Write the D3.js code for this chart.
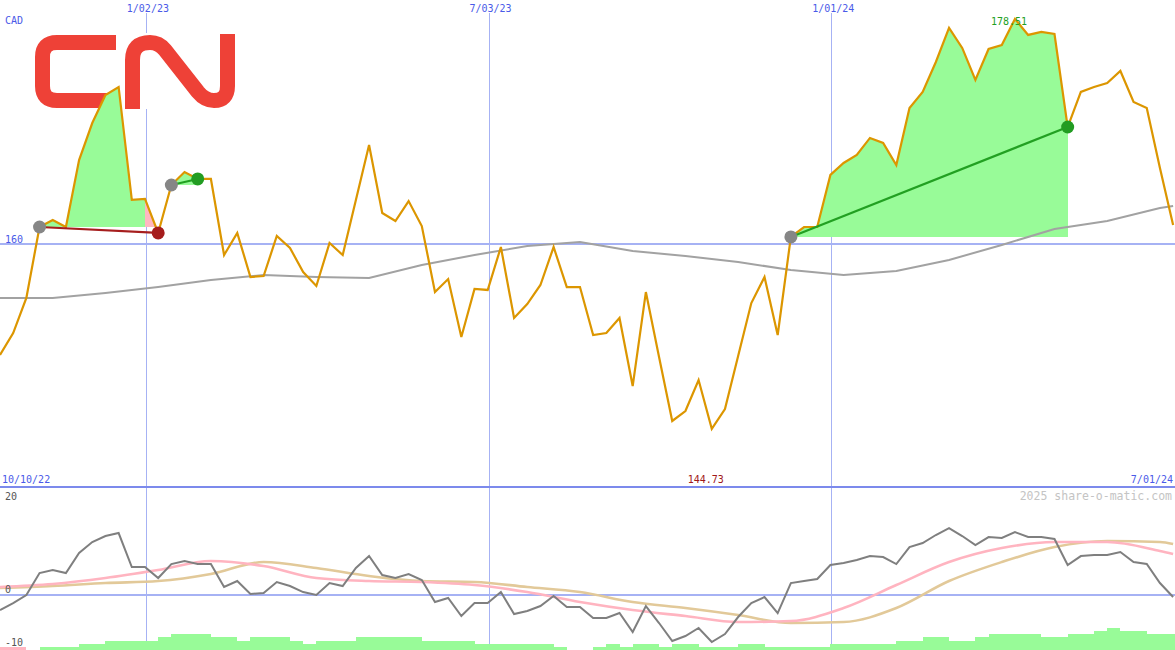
<!DOCTYPE html>
<html><head><meta charset="utf-8">
<script src="https://cdn.jsdelivr.net/npm/d3@7"></script>
<style>
body{margin:0;background:#fff}
svg{display:block}
text{font-family:"DejaVu Sans Mono",monospace}
</style>
</head><body>
<svg id="c" width="1175" height="650"></svg>
<script>
// ---------- data ----------
const startDate = "2022-10-16";   // first weekly close plotted
const endDate = "2024-07-01";     // right edge of the chart
const rangeLabels = ["10/10/22", "7/01/24"];
const currency = "CAD";

const price = [150.81,152.62,155.51,161.36,161.94,161.36,166.88,169.93,172.24,172.90,
163.59,163.67,160.87,164.82,165.89,165.32,165.32,159.05,160.87,157.24,
157.32,160.62,159.63,157.65,156.50,160.04,159.05,163.59,168.12,162.51,
161.85,163.50,161.44,156.00,157.07,152.29,156.25,156.17,159.71,153.86,
155.01,156.58,159.71,156.41,156.41,152.46,152.62,153.86,148.25,156.00,
150.64,145.37,146.19,148.75,144.73,146.36,150.73,155.09,157.24,152.46,
160.54,161.36,161.36,165.65,166.64,167.30,168.70,168.29,166.47,171.17,
172.49,174.96,177.77,176.12,173.48,176.03,176.36,178.51,177.19,177.44,
177.27,169.60,172.49,172.90,173.23,174.22,171.67,171.17,166.22,161.53];

const avgIndex = [0,4,8,12,16,20,24,28,32,36,40,44,48,52,56,60,64,68,72,76,80,84,88,89];
const movingAvg = [155.51,155.51,155.92,156.41,156.99,157.40,157.24,157.16,158.23,159.05,159.79,160.12,
159.38,158.97,158.47,157.82,157.40,157.73,158.64,159.88,161.20,161.85,162.93,163.09];

const momentum = [-2.74,-1.43,0.06,4.16,4.71,4.16,7.88,9.93,11.05,11.61,
5.27,5.27,3.22,5.83,6.39,5.83,5.83,1.55,2.66,0.24,
0.43,2.48,1.73,0.61,0.06,2.29,1.73,5.09,7.32,3.78,
3.22,3.97,2.85,-1.25,-0.50,-3.86,-1.43,-1.43,0.61,-3.48,
-2.93,-1.99,-0.13,-2.18,-2.18,-4.23,-4.23,-3.30,-6.84,-1.99,
-5.16,-8.52,-7.58,-6.09,-8.70,-7.21,-4.04,-1.43,-0.32,-3.30,
2.29,2.66,3.04,5.65,6.02,6.58,7.32,7.14,5.83,9.00,
9.74,11.24,12.54,11.05,9.37,10.86,10.68,11.79,10.86,10.86,
10.49,5.65,7.32,7.51,7.51,8.07,6.20,5.83,2.29,-0.32];

const fastSignal = [1.55,2.11,3.22,4.71,6.39,5.46,3.22,2.66,2.48,1.92,0.61,-1.25,
-2.74,-3.86,-4.98,-4.79,-2.37,1.92,6.20,8.81,9.93,9.93,8.25,7.69];
const slowSignal = [1.36,1.73,2.29,2.66,3.97,6.20,5.09,3.60,2.66,2.48,1.55,0.61,
-1.25,-2.37,-3.67,-5.16,-4.98,-2.37,2.66,6.20,9.00,10.12,9.93,9.56];

const strength = [-1,-1,0,1,1,1,2,2,3,3,3,3,4,5,5,5,4,4,3,4,
4,4,3,2,3,3,3,4,4,4,4,4,3,3,3,3,2,2,2,2,
2,2,1,0,0,1,2,1,2,2,1,2,2,1,1,1,2,2,1,1,
1,1,1,2,2,2,2,2,3,3,4,4,3,3,4,5,5,5,5,4,
4,5,5,6,7,6,6,5,5,5];

const buyIndex = [3, 13, 60];
const sellIndex = [12, 15, 81];

const gridDates = ["2023-01-02", "2023-07-03", "2024-01-01"];
const gridLabels = ["1/02/23", "7/03/23", "1/01/24"];
const priceRefLevel = 160;
const lowerTicks = [20, 0, -10];
const watermark = "2025 share-o-matic.com";

(function () {
// ---------- setup ----------
const W = 1175, H = 650;
const svg = d3.select("#c");
const parse = d3.utcParse("%Y-%m-%d");
const weeks = d3.utcWeek.range(parse(startDate), parse(endDate));

const x = d3.scaleUtc().domain([parse(startDate), parse(endDate)]).range([0, W]);
const y = d3.scaleLinear().domain([139.93, 180.07]).range([487, 0]);
const y2 = d3.scaleLinear().domain([-10, 20]).range([649, 488]);
const hBar = d3.scaleLinear().domain([0, 7]).range([0, 22]);

const gridCol = "#a6b2f4";
const blueText = "#4a5ae8";

svg.append("rect").attr("width", W).attr("height", H).attr("fill", "#fff");

const defs = svg.append("defs");
defs.append("clipPath").attr("id", "clipTop").append("rect").attr("x", 0).attr("y", 0).attr("width", W).attr("height", 486);
defs.append("clipPath").attr("id", "clipBot").append("rect").attr("x", 0).attr("y", 489).attr("width", W).attr("height", H - 489);

// vertical grid lines
svg.append("g").selectAll("line").data(gridDates).join("line")
  .attr("x1", d => Math.round(x(parse(d))) - 0.5).attr("x2", d => Math.round(x(parse(d))) - 0.5)
  .attr("y1", 13).attr("y2", H)
  .attr("stroke", gridCol).attr("stroke-width", 1).attr("shape-rendering", "crispEdges");

// logo with white backdrop
const logo = svg.append("g");
logo.append("rect").attr("x", 33).attr("y", 33).attr("width", 206).attr("height", 76).attr("fill", "#fff");
logo.append("path")
  .attr("d", "M116,42.5 H57 Q42.5,42.5 42.5,57 V86 Q42.5,100.5 57,100.5 H116")
  .attr("fill", "none").attr("stroke", "#ee4137").attr("stroke-width", 15);
logo.append("path")
  .attr("d", "M132.5,109 V60 Q132.5,42.5 150,42.5 Q159,42.5 165,50 L198,92 Q205,100.5 214,100.5 Q227.5,100.5 227.5,86 V34")
  .attr("fill", "none").attr("stroke", "#ee4137").attr("stroke-width", 15);

// top panel
const topG = svg.append("g").attr("clip-path", "url(#clipTop)");

// trade fills
const areaFor = (lvl) => d3.area().x(i => x(weeks[i])).y0(y(lvl)).y1(i => y(price[i]));
buyIndex.forEach((b, k) => {
  const s = sellIndex[k];
  const lvl = price[b];
  const win = price[s] >= lvl;
  const body = d3.range(b, s); // b .. s-1
  topG.append("path").attr("d", areaFor(lvl)(body)).attr("fill", "#98fb98").attr("shape-rendering", "crispEdges");
  topG.append("path").attr("d", areaFor(lvl)([s - 1, s])).attr("fill", win ? "#98fb98" : "#ffb6c1").attr("shape-rendering", "crispEdges");
});

// reference level line
topG.append("line").attr("x1", 0).attr("x2", W)
  .attr("y1", Math.round(y(priceRefLevel))).attr("y2", Math.round(y(priceRefLevel)))
  .attr("stroke", gridCol).attr("stroke-width", 2).attr("shape-rendering", "crispEdges");

// moving average
topG.append("path")
  .attr("d", d3.line().x((d, i) => x(weeks[avgIndex[i]])).y(d => y(d))(movingAvg))
  .attr("fill", "none").attr("stroke", "#a2a2a2").attr("stroke-width", 2);

// price line
topG.append("path")
  .attr("d", d3.line().x((d, i) => x(weeks[i])).y(d => y(d))(price))
  .attr("fill", "none").attr("stroke", "#dc9600").attr("stroke-width", 2.2).attr("stroke-linejoin", "miter");

// trade lines and markers
buyIndex.forEach((b, k) => {
  const s = sellIndex[k];
  const win = price[s] >= price[b];
  topG.append("line")
    .attr("x1", x(weeks[b])).attr("y1", y(price[b]))
    .attr("x2", x(weeks[s])).attr("y2", y(price[s]))
    .attr("stroke", win ? "#22a022" : "#a61e1e").attr("stroke-width", 2.2);
});
buyIndex.forEach((b, k) => {
  const s = sellIndex[k];
  const win = price[s] >= price[b];
  topG.append("circle").attr("cx", x(weeks[b])).attr("cy", y(price[b])).attr("r", 6.5)
    .attr("fill", "#868686");
  topG.append("circle").attr("cx", x(weeks[s])).attr("cy", y(price[s])).attr("r", 6.5)
    .attr("fill", win ? "#229c22" : "#a51c1c");
});

// top labels
svg.append("g").selectAll("text").data(gridDates).join("text")
  .attr("x", d => x(parse(d)) + 1).attr("y", 12).attr("text-anchor", "middle")
  .attr("font-size", 10).attr("fill", blueText).text((d, i) => gridLabels[i]);
svg.append("text").attr("x", 5).attr("y", 24).attr("font-size", 10).attr("fill", blueText).text(currency);
svg.append("text").attr("x", 5).attr("y", y(priceRefLevel) - 1).attr("font-size", 10).attr("fill", blueText).text(priceRefLevel);

const hiI = d3.maxIndex(price), loI = d3.minIndex(price);
svg.append("text").attr("x", x(weeks[hiI]) - 6).attr("y", 25).attr("text-anchor", "middle")
  .attr("font-size", 10).attr("fill", "#22a022").text(price[hiI].toFixed(2));
svg.append("text").attr("x", x(weeks[loI]) - 6).attr("y", 483).attr("text-anchor", "middle")
  .attr("font-size", 10).attr("fill", "#a01818").text(price[loI].toFixed(2));
svg.append("text").attr("x", 2).attr("y", 483).attr("font-size", 10).attr("fill", blueText).text(rangeLabels[0]);
svg.append("text").attr("x", W - 2).attr("y", 483).attr("text-anchor", "end").attr("font-size", 10).attr("fill", blueText).text(rangeLabels[1]);

// divider
svg.append("line").attr("x1", 0).attr("x2", W).attr("y1", 487).attr("y2", 487)
  .attr("stroke", "#7c8aec").attr("stroke-width", 2).attr("shape-rendering", "crispEdges");

// lower panel
const bot = svg.append("g").attr("clip-path", "url(#clipBot)");
bot.selectAll("rect.bar").data(strength).join("rect").attr("class", "bar")
  .attr("x", (d, i) => x(weeks[i]))
  .attr("width", (d, i) => x(d3.utcWeek.offset(weeks[i], 1)) - x(weeks[i]))
  .attr("y", d => H - hBar(Math.abs(d)))
  .attr("height", d => hBar(Math.abs(d)))
  .attr("fill", d => d < 0 ? "#ffb6c1" : "#98fb98").attr("shape-rendering", "crispEdges");

bot.append("line").attr("x1", 0).attr("x2", W)
  .attr("y1", Math.round(y2(0))).attr("y2", Math.round(y2(0)))
  .attr("stroke", gridCol).attr("stroke-width", 2).attr("shape-rendering", "crispEdges");

const sigLine = d3.line().x((d, i) => x(weeks[avgIndex[i]])).y(d => y2(d)).curve(d3.curveMonotoneX);
bot.append("path").attr("d", sigLine(slowSignal)).attr("fill", "none").attr("stroke", "#e2c999").attr("stroke-width", 2.6);
bot.append("path").attr("d", sigLine(fastSignal)).attr("fill", "none").attr("stroke", "#ffb4c0").attr("stroke-width", 2.6);
bot.append("path").attr("d", d3.line().x((d, i) => x(weeks[i])).y(d => y2(d))(momentum))
  .attr("fill", "none").attr("stroke", "#7f7f7f").attr("stroke-width", 2);

// lower labels
const lowerY = {"20": 500, "0": 593, "-10": 646};
svg.append("g").selectAll("text").data(lowerTicks).join("text")
  .attr("x", 5).attr("y", d => lowerY[String(d)]).attr("font-size", 10).attr("fill", "#555")
  .text(d => d);
svg.append("text").attr("x", W - 3).attr("y", 500).attr("text-anchor", "end")
  .attr("font-size", 11.5).attr("fill", "#c4c4c4").text(watermark);
})();
</script>
</body></html>
